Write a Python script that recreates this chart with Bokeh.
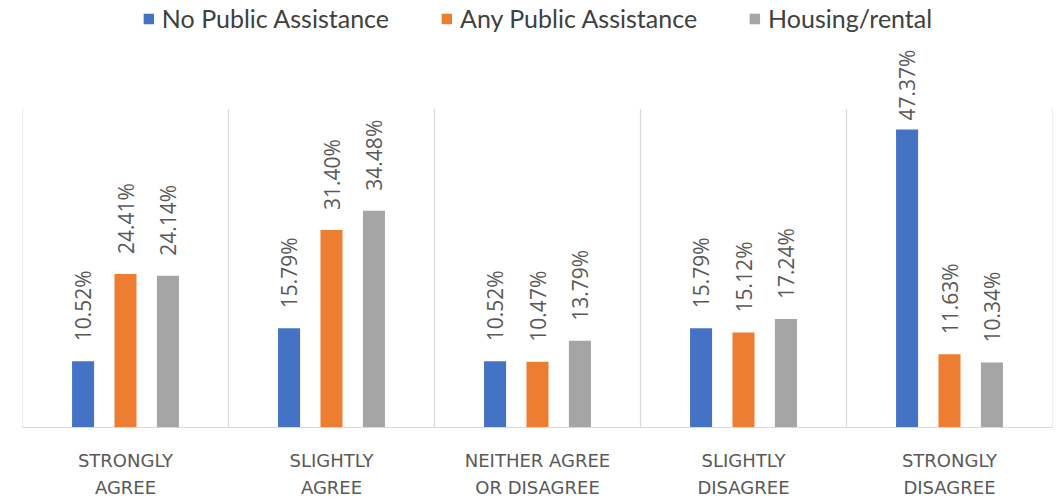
import math
from bokeh.plotting import figure
from bokeh.models import ColumnDataSource, FactorRange, Range1d, Legend, LegendItem
from bokeh.transform import dodge
from bokeh.core.properties import value
from bokeh.embed import file_html
from bokeh.resources import INLINE

categories = ["STRONGLY\nAGREE", "SLIGHTLY\nAGREE", "NEITHER AGREE\nOR DISAGREE",
              "SLIGHTLY\nDISAGREE", "STRONGLY\nDISAGREE"]
series_names = ["No Public Assistance", "Any Public Assistance", "Housing/rental"]
no_public = [10.52, 15.79, 10.52, 15.79, 47.37]
any_public = [24.41, 31.40, 10.47, 15.12, 11.63]
housing = [24.14, 34.48, 13.79, 17.24, 10.34]
colors = ["#4472C4", "#ED7D31", "#A5A5A5"]

series_values = [no_public, any_public, housing]
offsets = [-0.206, 0.0, 0.206]
bar_width = 0.107
sep_top = 50.7
y_max = 67.9

# label placement (data units): gap above the bar, and an upper limit so the
# label stays inside the chart area (like Excel does for the tallest bar)
frame_h = 427
px_per_unit = frame_h / y_max
label_gap = 20 / px_per_unit
label_len = 70 / px_per_unit
label_limit = (frame_h - 50) / px_per_unit

p = figure(x_range=FactorRange(*categories, range_padding=0),
           y_range=Range1d(0, y_max),
           frame_width=1030, frame_height=frame_h,
           output_backend="svg", toolbar_location=None,
           y_axis_location=None,
           min_border_left=22, min_border_right=3,
           min_border_top=0, min_border_bottom=0)
p.outline_line_color = None
p.xgrid.visible = False
p.ygrid.visible = False
p.background_fill_color = "white"
p.border_fill_color = "white"

# separators between categories
bounds = list(range(len(categories) + 1))
p.segment(x0=bounds, y0=[0] * len(bounds), x1=bounds, y1=[sep_top] * len(bounds),
          line_color="#d9d9d9", line_width=1.2)

items = []
for name, vals, off, col in zip(series_names, series_values, offsets, colors):
    src = ColumnDataSource(dict(
        cat=categories, val=vals,
        laby=[max(v, min(v + label_gap, label_limit - label_len)) for v in vals],
        lab=["%.2f%%" % v for v in vals]))
    r = p.vbar(x=dodge("cat", off, range=p.x_range), top="val", width=bar_width,
               source=src, fill_color=col, line_color=None)
    p.text(x=dodge("cat", off, range=p.x_range), y="laby", text="lab", source=src,
           angle=math.pi / 2, text_align="left", text_baseline="middle",
           text_font=value("Open Sans"), text_font_size="21px",
           text_color="#595959")
    items.append(LegendItem(label=name, renderers=[r]))

legend = Legend(items=items, orientation="horizontal", location="top_center",
                background_fill_alpha=0, border_line_alpha=0,
                glyph_width=13, glyph_height=13, label_standoff=7, spacing=51,
                label_text_font="Lato", label_text_font_size="25px",
                label_text_color="#404040", padding=0, margin=3)
p.add_layout(legend)

p.xaxis.axis_line_color = "#d9d9d9"
p.xaxis.axis_line_width = 1.2
p.xaxis.major_tick_line_color = None
p.xaxis.minor_tick_line_color = None
p.xaxis.major_label_text_font = "DejaVu Sans"
p.xaxis.major_label_text_font_size = "18px"
p.xaxis.major_label_text_color = "#595959"
p.xaxis.major_label_text_line_height = 1.33
p.xaxis.major_label_standoff = 16

open("out.html", "w").write(file_html(p, INLINE))
